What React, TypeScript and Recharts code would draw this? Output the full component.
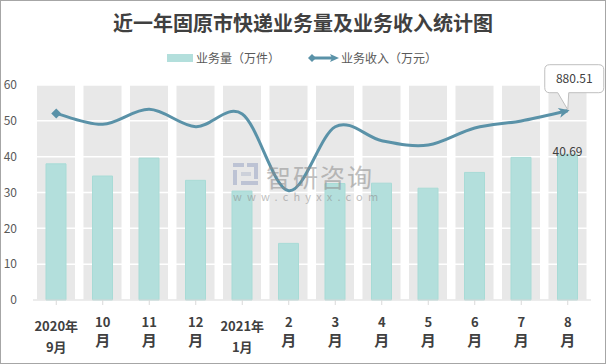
import {
  ComposedChart,
  Bar,
  Line,
  XAxis,
  YAxis,
  CartesianGrid,
  LabelList,
} from "recharts";

const months = ["2020年9月", "10月", "11月", "12月", "2021年1月", "2月", "3月", "4月", "5月", "6月", "7月", "8月"];
const volume = [38, 34.6, 39.6, 33.4, 30.4, 15.8, 32.5, 32.6, 31.2, 35.6, 39.8, 40.69];
const revenue = [868, 817, 887, 806, 865, 508, 806, 741, 721, 800, 833, 880.51];
const leftTicks = [0, 10, 20, 30, 40, 50, 60];

const Y_MAX = 60;
const BAR_COLOR = "#b3dfdc";
const LINE_COLOR = "#5a92a8";
const TEXT = "#404040";
const FONT = "'Noto Sans CJK SC', 'Noto Sans', sans-serif";

const data = months.map((m, i) => ({ month: m, volume: volume[i], revenue: revenue[i] }));

// excel-like smoothed line (catmull-rom through every point)
const smoothCurve = (context: any) => {
  let pts: number[][] = [];
  return {
    areaStart() {},
    areaEnd() {},
    lineStart() {
      pts = [];
    },
    point(x: number, y: number) {
      pts.push([+x, +y]);
    },
    lineEnd() {
      if (!pts.length) return;
      context.moveTo(pts[0][0], pts[0][1]);
      const t = 1 / 6;
      for (let i = 0; i < pts.length - 1; i++) {
        const p0 = pts[Math.max(i - 1, 0)];
        const p1 = pts[i];
        const p2 = pts[i + 1];
        const p3 = pts[Math.min(i + 2, pts.length - 1)];
        context.bezierCurveTo(
          p1[0] + (p2[0] - p0[0]) * t,
          p1[1] + (p2[1] - p0[1]) * t,
          p2[0] - (p3[0] - p1[0]) * t,
          p2[1] - (p3[1] - p1[1]) * t,
          p2[0],
          p2[1]
        );
      }
    },
  };
};

const MonthTick = ({ x, y, payload }: any) => {
  const v: string = payload.value;
  const idx = v.indexOf("年");
  const lines = idx >= 0 ? [v.slice(0, idx + 1), v.slice(idx + 1)] : [v.replace("月", ""), "月"];
  const first = idx >= 0 ? 20 : 16;
  const gap = idx >= 0 ? 21.5 : 19;
  return (
    <g>
      {lines.map((l, i) => (
        <text
          key={i}
          x={x}
          y={y + first + i * gap}
          textAnchor="middle"
          dominantBaseline="middle"
          fontSize={idx < 0 && i === 1 ? 15 : 13}
          fontWeight="bold"
          fill={TEXT}
          fontFamily={FONT}
        >
          {l}
        </text>
      ))}
    </g>
  );
};

const renderDot = (props: any) => {
  const { cx, cy, index } = props;
  if (index === 0) {
    return (
      <path
        key={`d${index}`}
        d={`M${cx - 5},${cy} L${cx},${cy - 5} L${cx + 5},${cy} L${cx},${cy + 5} Z`}
        fill={LINE_COLOR}
      />
    );
  }
  if (index === revenue.length - 1) {
    return (
      <path
        key={`d${index}`}
        d="M2,0 L-9,-5 L-6,0 L-9,5 Z"
        transform={`translate(${cx},${cy}) rotate(-14)`}
        fill={LINE_COLOR}
      />
    );
  }
  return <g key={`d${index}`} />;
};

const Callout = (props: any) => {
  const { x, y, index, value } = props;
  if (index !== revenue.length - 1) return null;
  const bx = x - 23;
  const by = y - 46;
  const w = 59;
  const h = 28;
  const r = 5;
  const d = `M${bx + r},${by} H${bx + w - r} Q${bx + w},${by} ${bx + w},${by + r} V${by + h - r} Q${bx + w},${by + h} ${bx + w - r},${by + h} H${x + 1} L${x},${y - 1} L${x - 10},${by + h} H${bx + r} Q${bx},${by + h} ${bx},${by + h - r} V${by + r} Q${bx},${by} ${bx + r},${by} Z`;
  return (
    <g>
      <path d={d} fill="#fff" stroke="#bfbfbf" strokeWidth={1} />
      <text x={bx + w / 2} y={by + h / 2 + 1} textAnchor="middle" dominantBaseline="middle" fontSize={12} fill={TEXT} fontFamily={FONT}>
        {value}
      </text>
    </g>
  );
};

const LastBarLabel = (props: any) => {
  const { x, y, width, index, value } = props;
  if (index !== volume.length - 1) return null;
  return (
    <text x={x + width / 2} y={y - 1} textAnchor="middle" dominantBaseline="middle" fontSize={12} fill={TEXT} fontFamily={FONT}>
      {value}
    </text>
  );
};

export default function App() {
  return (
    <div style={{ position: "absolute", left: 0, top: 0, width: 606, height: 364, background: "#fff", fontFamily: FONT }}>
      <div
        style={{
          position: "absolute",
          left: 0,
          top: 10,
          width: 606,
          textAlign: "center",
          fontSize: 20,
          fontWeight: "bold",
          color: TEXT,
          lineHeight: "26px",
        }}
      >
        近一年固原市快递业务量及业务收入统计图
      </div>
      <div style={{ position: "absolute", left: 167, top: 49, display: "flex", alignItems: "center", fontSize: 12, color: "#595959", lineHeight: "18px" }}>
        <span style={{ display: "inline-block", width: 26, height: 8, background: BAR_COLOR, marginRight: 3 }} />
        <span>业务量（万件）</span>
        <svg width={32} height={12} style={{ marginLeft: 28, marginRight: 1 }}>
          <line x1={4} y1={6} x2={26} y2={6} stroke={LINE_COLOR} strokeWidth={3} />
          <path d="M0,6 L4,2 L8,6 L4,10 Z" fill={LINE_COLOR} />
          <path d="M31,6 L22,2 L24,6 L22,10 Z" fill={LINE_COLOR} />
        </svg>
        <span>业务收入（万元）</span>
      </div>

      <ComposedChart width={606} height={364} data={data} margin={{ top: 85, right: 15, left: 0, bottom: 0 }}>
        <XAxis xAxisId="bg" dataKey="month" orientation="top" height={0} hide />
        <XAxis
          xAxisId="main"
          dataKey="month"
          height={64}
          interval={0}
          tick={<MonthTick />}
          axisLine={{ stroke: "#d9d9d9" }}
          tickLine={{ stroke: "#d9d9d9" }}
          tickSize={5}
        />
        <YAxis
          yAxisId="left"
          domain={[0, Y_MAX]}
          ticks={leftTicks}
          width={33}
          axisLine={false}
          tickLine={false}
          tick={{ fontSize: 12, fill: "#595959", fontFamily: FONT }}
          tickMargin={10}
        />
        <YAxis yAxisId="right" orientation="right" domain={[0, 1000]} width={0} hide />
        <Bar
          xAxisId="bg"
          yAxisId="left"
          dataKey={() => Y_MAX}
          barSize={38}
          fill="#e8e8e8"
          isAnimationActive={false}
          zIndex={-200}
        />
        <CartesianGrid yAxisId="left" xAxisId="main" vertical={false} stroke="#ffffff" strokeWidth={1.5} />
        <Bar xAxisId="main" yAxisId="left" dataKey="volume" barSize={20} fill={BAR_COLOR} stroke="#a8dbd6" isAnimationActive={false}>
          <LabelList dataKey="volume" content={<LastBarLabel />} />
        </Bar>
        <Line
          xAxisId="main"
          yAxisId="right"
          dataKey="revenue"
          type={smoothCurve as any}
          stroke={LINE_COLOR}
          strokeWidth={3}
          dot={renderDot}
          activeDot={false}
          isAnimationActive={false}
        >
          <LabelList dataKey="revenue" content={<Callout />} />
        </Line>
      </ComposedChart>

      <div style={{ position: "absolute", left: 233, top: 161, pointerEvents: "none", opacity: 0.55 }}>
        <svg width={26} height={25} style={{ position: "absolute", left: 0, top: 2 }}>
          <rect x={0} y={0} width={11} height={4} fill="#9aa6c4" />
          <rect x={14} y={0} width={11} height={4} fill="#9aa6c4" />
          <rect x={0} y={7} width={4} height={15} fill="#9aa6c4" />
          <rect x={8} y={9} width={10} height={4} fill="#b8bfd0" />
          <rect x={21} y={4} width={4} height={12} fill="#9aa6c4" />
          <rect x={8} y={18} width={17} height={4} fill="#9aa6c4" />
        </svg>
        <div style={{ position: "absolute", left: 33, top: -3, fontSize: 25, color: "#8c8c8c", whiteSpace: "nowrap", letterSpacing: 2 }}>
          智研咨询
        </div>
        <div style={{ position: "absolute", left: 0, top: 27, fontSize: 11, color: "#8c8c8c", whiteSpace: "nowrap", letterSpacing: 5.2 }}>
          www.chyxx.com
        </div>
      </div>

      <div
        style={{
          position: "absolute",
          left: 0,
          top: 0,
          width: 606,
          height: 364,
          boxSizing: "border-box",
          border: "1px solid #a6a6a6",
          pointerEvents: "none",
        }}
      />
    </div>
  );
}
